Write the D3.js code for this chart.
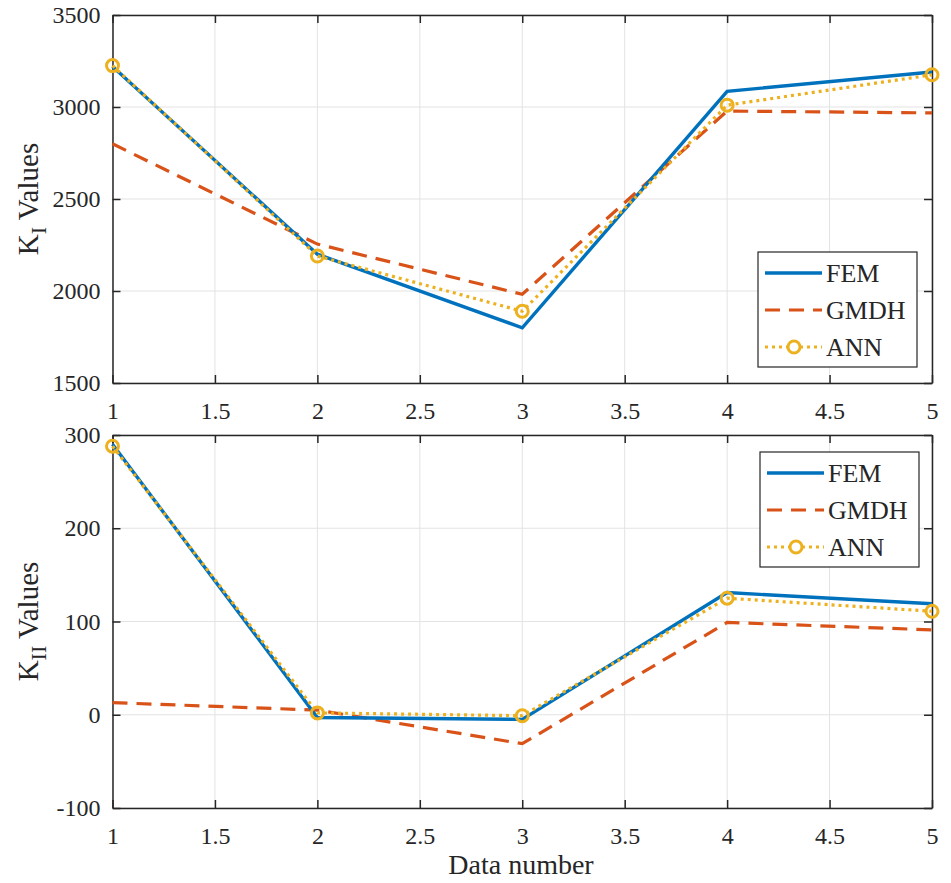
<!DOCTYPE html>
<html>
<head>
<meta charset="utf-8">
<script src="https://cdn.jsdelivr.net/npm/d3@7"></script>
<style>
  html, body { margin: 0; padding: 0; background: #fff; }
  svg { display: block; }
  text { font-family: "Liberation Serif", "Times New Roman", serif; fill: #262626; }
</style>
</head>
<body>
<svg id="chart" width="951" height="883"></svg>
<script>
// Data numbers (x values)
const dataNumbers = [1, 2, 3, 4, 5];

// Mode I stress intensity factor
const kiFEM  = [3220, 2200, 1800, 3085, 3190];
const kiGMDH = [2800, 2255, 1982, 2978, 2968];
const kiANN  = [3225, 2190, 1890, 3010, 3175];

// Mode II stress intensity factor
const kiiFEM  = [290, -3, -5, 131, 119];
const kiiGMDH = [13, 5, -31, 99, 91];
const kiiANN  = [288, 2, -1, 125, 111];

const xTicks = [1, 1.5, 2, 2.5, 3, 3.5, 4, 4.5, 5];
const kiTicks = [1500, 2000, 2500, 3000, 3500];
const kiiTicks = [-100, 0, 100, 200, 300];
const seriesNames = ["FEM", "GMDH", "ANN"];

const colors = { FEM: "#0072BD", GMDH: "#D95319", ANN: "#EDB120" };
const axisColor = "#262626";

const svg = d3.select("#chart");

// plain hyphen for negatives, as in the printed figure
const numFmt = d => String(d);

function panel(cfg) {
  const x = d3.scaleLinear().domain([1, 5]).range([112.5, 932]);
  const y = d3.scaleLinear().domain(cfg.domain).range([cfg.bottom, cfg.top]);
  const g = svg.append("g");

  // grid
  g.append("g").selectAll("line").data(xTicks).join("line")
    .attr("x1", d => x(d)).attr("x2", d => x(d))
    .attr("y1", cfg.top).attr("y2", cfg.bottom)
    .attr("stroke", "#e3e3e3").attr("stroke-width", 1);
  g.append("g").selectAll("line").data(cfg.ticks).join("line")
    .attr("x1", x.range()[0]).attr("x2", x.range()[1])
    .attr("y1", d => y(d)).attr("y2", d => y(d))
    .attr("stroke", "#e3e3e3").attr("stroke-width", 1);

  // axes (ticks inward, on all four sides)
  const tl = 8;
  const bottomAxis = d3.axisBottom(x).tickValues(xTicks).tickSize(-tl).tickSizeOuter(0)
    .tickPadding(19).tickFormat(numFmt);
  const topAxis = d3.axisTop(x).tickValues(xTicks).tickSize(-tl).tickSizeOuter(0).tickFormat("");
  const leftAxis = d3.axisLeft(y).tickValues(cfg.ticks).tickSize(-tl).tickSizeOuter(0)
    .tickPadding(12).tickFormat(numFmt);
  const rightAxis = d3.axisRight(y).tickValues(cfg.ticks).tickSize(-tl).tickSizeOuter(0).tickFormat("");

  const styleAxis = sel => {
    sel.attr("font-family", null).attr("font-size", null);
    sel.select(".domain").attr("stroke", axisColor).attr("stroke-width", 1.5);
    sel.selectAll(".tick line").attr("stroke", axisColor).attr("stroke-width", 1.5);
    sel.selectAll(".tick text").attr("fill", axisColor).style("font-size", "24px");
  };
  g.append("g").attr("transform", `translate(0,${cfg.bottom})`).call(bottomAxis).call(styleAxis);
  g.append("g").attr("transform", `translate(0,${cfg.top})`).call(topAxis).call(styleAxis);
  g.append("g").attr("transform", `translate(${x.range()[0]},0)`).call(leftAxis).call(styleAxis);
  g.append("g").attr("transform", `translate(${x.range()[1]},0)`).call(rightAxis).call(styleAxis);

  // lines
  const line = vals => d3.line().x((d, i) => x(dataNumbers[i])).y(d => y(d))(vals);
  const plotArea = g.append("g");
  plotArea.append("path").attr("d", line(cfg.gmdh)).attr("fill", "none")
    .attr("stroke", colors.GMDH).attr("stroke-width", 3.2).attr("stroke-dasharray", "15,9");
  plotArea.append("path").attr("d", line(cfg.fem)).attr("fill", "none")
    .attr("stroke", colors.FEM).attr("stroke-width", 3.4);
  plotArea.append("path").attr("d", line(cfg.ann)).attr("fill", "none")
    .attr("stroke", colors.ANN).attr("stroke-width", 3.2).attr("stroke-dasharray", "3,4");
  plotArea.selectAll("circle").data(cfg.ann).join("circle")
    .attr("cx", (d, i) => x(dataNumbers[i])).attr("cy", d => y(d)).attr("r", 6)
    .attr("fill", "none").attr("stroke", colors.ANN).attr("stroke-width", 3);

  // y label with subscript
  const cy = (cfg.top + cfg.bottom) / 2;
  const lab = g.append("text")
    .attr("transform", `translate(38,${cy}) rotate(-90)`)
    .attr("text-anchor", "middle").style("font-size", "29px");
  lab.append("tspan").text("K");
  lab.append("tspan").attr("dy", 8).style("font-size", "22px").text(cfg.sub);
  lab.append("tspan").attr("dy", -8).text(" Values");

  // legend
  const lg = g.append("g").attr("transform", `translate(${cfg.legend[0]},${cfg.legend[1]})`);
  lg.append("rect").attr("width", 159).attr("height", 115)
    .attr("fill", "#fff").attr("stroke", axisColor).attr("stroke-width", 1.2);
  const rows = [
    { name: seriesNames[0], dash: null, w: 3.4 },
    { name: seriesNames[1], dash: "15,9", w: 3.2 },
    { name: seriesNames[2], dash: "3,4", w: 3.2 }
  ];
  rows.forEach((r, i) => {
    const ry = 21 + i * 37;
    lg.append("line").attr("x1", 7).attr("x2", 64).attr("y1", ry).attr("y2", ry)
      .attr("stroke", colors[r.name]).attr("stroke-width", r.w)
      .attr("stroke-dasharray", r.dash);
    if (r.name === "ANN") {
      lg.append("circle").attr("cx", 36).attr("cy", ry).attr("r", 6)
        .attr("fill", "#fff").attr("stroke", colors.ANN).attr("stroke-width", 3);
    }
    lg.append("text").attr("x", 68).attr("y", ry + 9).style("font-size", "26px").text(r.name);
  });
}

panel({ domain: [1500, 3500], top: 15, bottom: 383, ticks: kiTicks,
        fem: kiFEM, gmdh: kiGMDH, ann: kiANN, sub: "I", legend: [758, 252] });
panel({ domain: [-100, 300], top: 435, bottom: 808, ticks: kiiTicks,
        fem: kiiFEM, gmdh: kiiGMDH, ann: kiiANN, sub: "II", legend: [760, 452] });

svg.append("text").attr("x", 521).attr("y", 874).attr("text-anchor", "middle")
  .style("font-size", "28px").text("Data number");
</script>
</body>
</html>
